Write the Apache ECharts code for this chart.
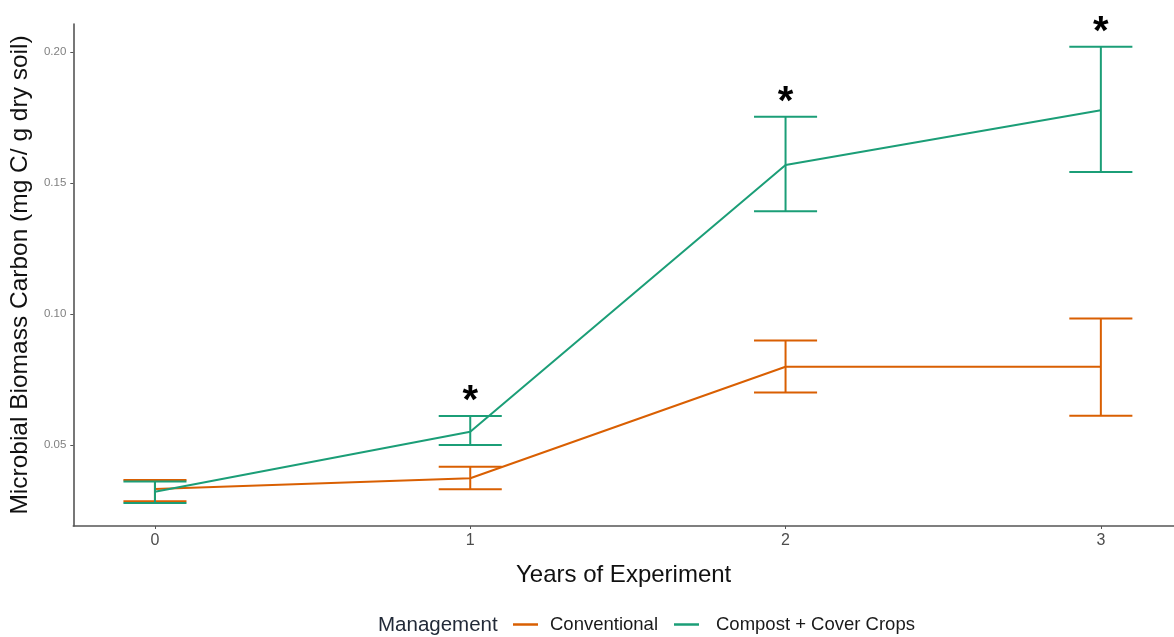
<!DOCTYPE html>
<html>
<head>
<meta charset="utf-8">
<script src="https://cdn.jsdelivr.net/npm/echarts@6/dist/echarts.min.js"></script>
<style>html,body{margin:0;padding:0;background:#fff;}#chart{width:1174px;height:637px;}</style>
</head>
<body>
<div id="chart"></div>
<script>
// Data
const years = [0, 1, 2, 3];
const xTickLabels = ['0', '1', '2', '3'];
const yTicks = [0.05, 0.10, 0.15, 0.20];

const convMean  = [0.0331, 0.0372, 0.0798, 0.0798];
const convLow   = [0.0284, 0.0330, 0.0700, 0.0611];
const convHigh  = [0.0366, 0.0416, 0.0898, 0.0982];

const compMean  = [0.0321, 0.0550, 0.1568, 0.1777];
const compLow   = [0.0278, 0.0499, 0.1391, 0.1541];
const compHigh  = [0.0360, 0.0610, 0.1752, 0.2019];

const sigMarks  = ['', '*', '*', '*'];

const seriesNames = ['Conventional', 'Compost + Cover Crops'];
const legendTitle = 'Management';
const xTitle = 'Years of Experiment';
const yTitle = 'Microbial Biomass Carbon (mg C/ g dry soil)';

const colConv = '#D95F02';
const colComp = '#1B9E77';

const FONT = 'Liberation Sans, Arial, sans-serif';
const CAP = 0.1;

function pairs(xs, ys) { return xs.map((x, i) => [x, ys[i]]); }
function bars(xs, lo, hi) { return xs.map((x, i) => [x, lo[i], hi[i]]); }

function errRender(color) {
  return function (params, api) {
    const x = api.value(0), lo = api.value(1), hi = api.value(2);
    const pHi = api.coord([x, hi]);
    const pLo = api.coord([x, lo]);
    const l = api.coord([x - CAP, hi])[0];
    const r = api.coord([x + CAP, hi])[0];
    const st = { stroke: color, lineWidth: 2 };
    return {
      type: 'group',
      children: [
        { type: 'line', shape: { x1: pHi[0], y1: pHi[1], x2: pLo[0], y2: pLo[1] }, style: st },
        { type: 'line', shape: { x1: l, y1: pHi[1], x2: r, y2: pHi[1] }, style: st },
        { type: 'line', shape: { x1: l, y1: pLo[1], x2: r, y2: pLo[1] }, style: st }
      ]
    };
  };
}

const chart = echarts.init(document.getElementById('chart'), null, { renderer: 'canvas' });

chart.setOption({
  backgroundColor: '#ffffff',
  animation: false,
  grid: { left: 72, right: 0, top: 24, bottom: 111, containLabel: false },
  xAxis: {
    type: 'value',
    min: -0.259, max: 3.232,
    name: xTitle,
    nameLocation: 'middle',
    nameGap: 37,
    nameTextStyle: { fontFamily: FONT, fontSize: 24, color: '#111' },
    axisLine: { show: true, onZero: false, lineStyle: { color: '#555', width: 1.6 } },
    axisTick: { show: true, length: 3, lineStyle: { color: '#555' }, customValues: years },
    axisLabel: {
      fontFamily: FONT, fontSize: 16, color: '#4d4d4d', margin: 7,
      customValues: years,
      formatter: v => xTickLabels[years.indexOf(Math.round(v))]
    },
    splitLine: { show: false }
  },
  yAxis: {
    type: 'value',
    min: 0.019, max: 0.2106,
    name: yTitle,
    nameLocation: 'middle',
    nameGap: 36,
    nameRotate: 90,
    nameTextStyle: { fontFamily: FONT, fontSize: 24.5, color: '#111' },
    axisLine: { show: true, onZero: false, lineStyle: { color: '#555', width: 1.6 } },
    axisTick: { show: true, length: 3, lineStyle: { color: '#555' }, customValues: yTicks },
    axisLabel: {
      fontFamily: FONT, fontSize: 11.5, color: '#808080', margin: 7,
      customValues: yTicks,
      formatter: v => v.toFixed(2)
    },
    splitLine: { show: false }
  },
  legend: {
    left: 508,
    top: 610,
    icon: 'rect',
    itemWidth: 25,
    itemHeight: 2.5,
    itemGap: 16,
    textStyle: { fontFamily: FONT, fontSize: 18.5, color: '#1a1a1a', padding: [0, 0, 0, 7] },
    data: [
      { name: seriesNames[0], itemStyle: { color: colConv } },
      { name: seriesNames[1], itemStyle: { color: colComp }, textStyle: { padding: [0, 0, 0, 12] } }
    ]
  },
  graphic: [{
    type: 'text',
    left: 378,
    top: 615,
    style: { text: legendTitle, fontFamily: FONT, fontSize: 20.5, fill: '#222a38' }
  }],
  series: [
    {
      name: seriesNames[0], type: 'line', data: pairs(years, convMean),
      showSymbol: false, symbol: 'none', lineStyle: { color: colConv, width: 2 },
      itemStyle: { color: colConv }, z: 2
    },
    {
      name: seriesNames[0], type: 'custom', data: bars(years, convLow, convHigh),
      renderItem: errRender(colConv), itemStyle: { color: colConv },
      encode: { x: 0, y: [1, 2] }, z: 3
    },
    {
      name: seriesNames[1], type: 'line', data: pairs(years, compMean),
      showSymbol: false, symbol: 'none', lineStyle: { color: colComp, width: 2 },
      itemStyle: { color: colComp }, z: 4
    },
    {
      name: seriesNames[1], type: 'custom', data: bars(years, compLow, compHigh),
      renderItem: errRender(colComp), itemStyle: { color: colComp },
      encode: { x: 0, y: [1, 2] }, z: 5
    },
    {
      name: 'sig', type: 'custom',
      data: years.map((x, i) => [x, compHigh[i], i]),
      encode: { x: 0, y: 1 },
      silent: true, z: 6,
      renderItem: function (params, api) {
        const i = api.value(2);
        const p = api.coord([api.value(0), api.value(1)]);
        return {
          type: 'text',
          style: {
            text: sigMarks[i], x: p[0], y: p[1] - 14,
            align: 'center', verticalAlign: 'middle',
            fontFamily: FONT, fontSize: 40, fontWeight: 'bold', fill: '#000'
          }
        };
      }
    }
  ]
});
</script>
</body>
</html>
